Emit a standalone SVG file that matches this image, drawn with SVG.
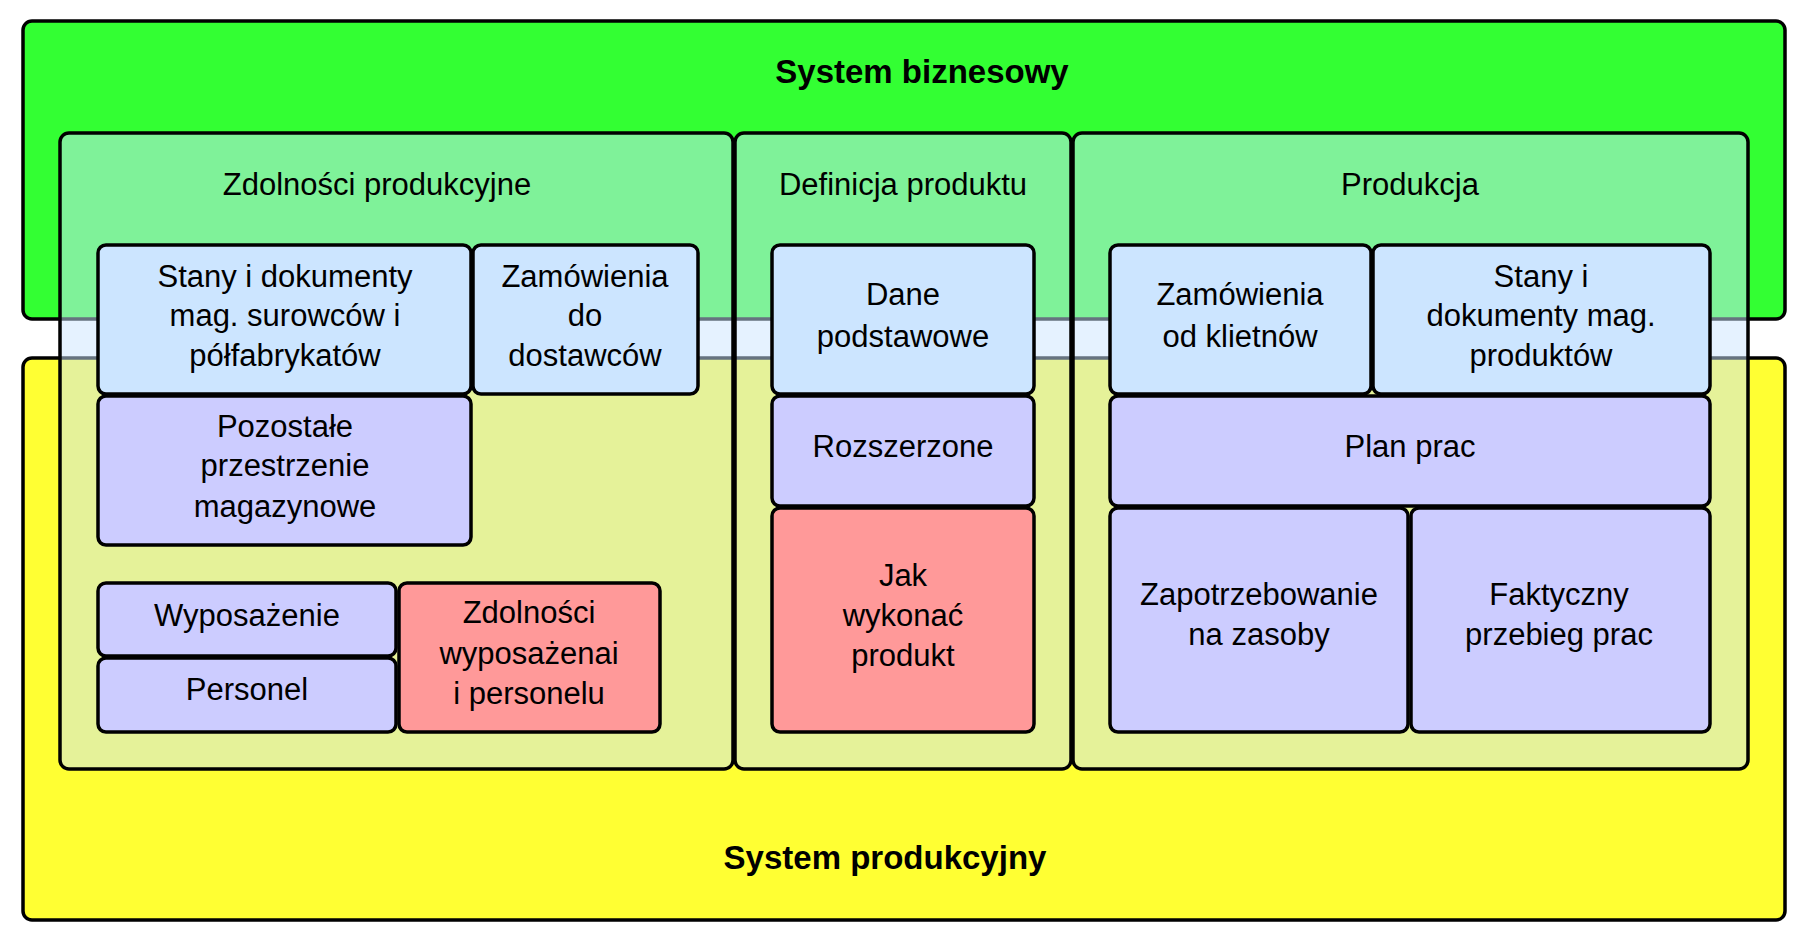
<svg xmlns="http://www.w3.org/2000/svg" width="1802" height="936" viewBox="0 0 1802 936">
<style>
.n rect,.c{stroke:#000;stroke-width:3.5}
.col{fill:#cce6ff;fill-opacity:0.5}
.lb{fill:#cce5ff}.pu{fill:#ccccff}.rd{fill:#ff9999}
text{font-family:"Liberation Sans",Arial,sans-serif;font-size:31px;text-anchor:middle;fill:#000}
.b{font-weight:bold;font-size:33px}
</style>
<rect width="1802" height="936" fill="#fff"/>
<g class="n">
<g id="biz"><rect x="23" y="21" width="1762" height="298" rx="9" fill="#33ff33"/><text class="b" x="922" y="83">System biznesowy</text></g>
<g id="prod"><rect x="23" y="358" width="1762" height="562" rx="9" fill="#ffff33"/><text class="b" x="885" y="869">System produkcyjny</text></g>
<g id="col1"><rect class="col" x="60" y="133" width="673" height="636" rx="9"/><text x="377" y="195">Zdolności produkcyjne</text></g>
<g id="col2"><rect class="col" x="735" y="133" width="336" height="636" rx="9"/><text x="903" y="195">Definicja produktu</text></g>
<g id="col3"><rect class="col" x="1073" y="133" width="675" height="636" rx="9"/><text x="1410" y="195">Produkcja</text></g>
<g id="n1"><rect class="lb" x="98" y="245" width="373" height="149" rx="8"/><text x="285" y="287">Stany i dokumenty</text><text x="285" y="326">mag. surowców i</text><text x="285" y="366">półfabrykatów</text></g>
<g id="n2"><rect class="lb" x="473" y="245" width="225" height="149" rx="8"/><text x="585" y="287">Zamówienia</text><text x="585" y="326">do</text><text x="585" y="366">dostawców</text></g>
<g id="n3"><rect class="lb" x="772" y="245" width="262" height="149" rx="8"/><text x="903" y="305">Dane</text><text x="903" y="347">podstawowe</text></g>
<g id="n4"><rect class="lb" x="1110" y="245" width="261" height="149" rx="8"/><text x="1240" y="305">Zamówienia</text><text x="1240" y="347">od klietnów</text></g>
<g id="n5"><rect class="lb" x="1373" y="245" width="337" height="149" rx="8"/><text x="1541" y="287">Stany i</text><text x="1541" y="326">dokumenty mag.</text><text x="1541" y="366">produktów</text></g>
<g id="n6"><rect class="pu" x="98" y="396" width="373" height="149" rx="8"/><text x="285" y="437">Pozostałe</text><text x="285" y="476">przestrzenie</text><text x="285" y="517">magazynowe</text></g>
<g id="n7"><rect class="pu" x="772" y="396" width="262" height="110" rx="8"/><text x="903" y="457">Rozszerzone</text></g>
<g id="n8"><rect class="pu" x="1110" y="396" width="600" height="110" rx="8"/><text x="1410" y="457">Plan prac</text></g>
<g id="n9"><rect class="pu" x="98" y="583" width="298" height="73" rx="8"/><text x="247" y="626">Wyposażenie</text></g>
<g id="n10"><rect class="pu" x="98" y="658" width="298" height="74" rx="8"/><text x="247" y="700">Personel</text></g>
<g id="n11"><rect class="rd" x="399" y="583" width="261" height="149" rx="8"/><text x="529" y="623">Zdolności</text><text x="529" y="664">wyposażenai</text><text x="529" y="704">i personelu</text></g>
<g id="n12"><rect class="rd" x="772" y="508" width="262" height="224" rx="8"/><text x="903" y="586">Jak</text><text x="903" y="626">wykonać</text><text x="903" y="666">produkt</text></g>
<g id="n13"><rect class="pu" x="1110" y="508" width="298" height="224" rx="8"/><text x="1259" y="605">Zapotrzebowanie</text><text x="1259" y="645">na zasoby</text></g>
<g id="n14"><rect class="pu" x="1411" y="508" width="299" height="224" rx="8"/><text x="1559" y="605">Faktyczny</text><text x="1559" y="645">przebieg prac</text></g>
</g>
<g id="connectors"/>
</svg>
